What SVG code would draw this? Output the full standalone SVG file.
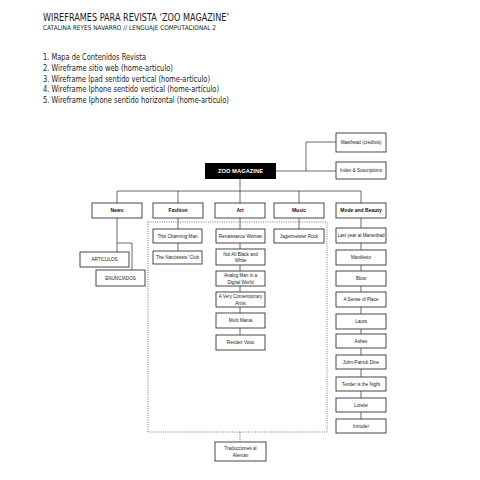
<svg xmlns="http://www.w3.org/2000/svg" width="480" height="480" viewBox="0 0 480 480">
<style>
.b{fill:#fff;stroke:#333;stroke-width:0.9}
.t{font-family:"Liberation Sans",Arial,sans-serif;font-size:4.6px;fill:#222;text-anchor:middle}
.c{font-family:"Liberation Sans",Arial,sans-serif;font-size:5px;font-weight:bold;fill:#111;text-anchor:middle}
.h{font-family:"DejaVu Sans",sans-serif;fill:#1a1a1a}
#conn line,#conn polyline{stroke:#444;stroke-width:0.8;fill:none}
</style>
<rect width="480" height="480" fill="#fff"/>
<text class="h" x="43" y="21" font-size="10" textLength="186" lengthAdjust="spacingAndGlyphs">WIREFRAMES PARA REVISTA ‘ZOO MAGAZINE’</text>
<text class="h" x="43" y="30" font-size="6.5" textLength="173" lengthAdjust="spacingAndGlyphs">CATALINA REYES NAVARRO // LENGUAJE COMPUTACIONAL 2</text>
<g class="h" font-size="8.5">
<text x="43" y="60" textLength="103" lengthAdjust="spacingAndGlyphs">1. Mapa de Contenidos Revista</text>
<text x="43" y="71" textLength="130" lengthAdjust="spacingAndGlyphs">2. Wireframe sitio web (home-artículo)</text>
<text x="43" y="81.5" textLength="167" lengthAdjust="spacingAndGlyphs">3. Wireframe Ipad sentido vertical (home-artículo)</text>
<text x="43" y="92" textLength="176" lengthAdjust="spacingAndGlyphs">4. Wireframe Iphone sentido vertical (home-artículo)</text>
<text x="43" y="102.5" textLength="186" lengthAdjust="spacingAndGlyphs">5. Wireframe Iphone sentido horizontal (home-artículo)</text>
</g>
<g id="conn">
<line x1="240" y1="179" x2="240" y2="191"/>
<line x1="117" y1="191" x2="361" y2="191"/>
<line x1="117" y1="191" x2="117" y2="203"/>
<line x1="178" y1="191" x2="178" y2="203"/>
<line x1="240" y1="191" x2="240" y2="203"/>
<line x1="299" y1="191" x2="299" y2="203"/>
<line x1="361" y1="191" x2="361" y2="203"/>
<line x1="276" y1="171" x2="336" y2="171"/>
<polyline points="306,171 306,142 336,142"/>
<line x1="117" y1="218" x2="117" y2="252"/>
<polyline points="117,243 132,243 132,270"/>
<line x1="178" y1="218" x2="178" y2="251"/>
<line x1="240" y1="218" x2="240" y2="335"/>
<line x1="299" y1="218" x2="299" y2="229"/>
<line x1="361" y1="218" x2="361" y2="419"/>
<rect x="148" y="222" width="179" height="210" fill="none" stroke="#555" stroke-width="0.8" stroke-dasharray="1,1.3"/>
<line x1="240" y1="432" x2="240" y2="442" stroke-dasharray="1,1.3"/>
</g>
<g id="zoo"><rect x="205" y="163" width="71" height="16" fill="#000"/><text class="c" x="240.5" y="173.2" style="fill:#fff;font-size:5.8px">ZOO MAGAZINE</text></g>
<g id="masthead"><rect class="b" x="336" y="133" width="50" height="19"/><text class="t" x="361" y="144">Masthead (créditos)</text></g>
<g id="index"><rect class="b" x="336" y="162" width="50" height="17"/><text class="t" x="361" y="172">Index &amp; Suscriptions</text></g>
<g id="news"><rect class="b" x="92" y="203" width="50" height="15"/><text class="c" x="117" y="212">News</text></g>
<g id="fashion"><rect class="b" x="153" y="203" width="50" height="15"/><text class="c" x="178" y="212">Fashion</text></g>
<g id="art"><rect class="b" x="215" y="203" width="50" height="15"/><text class="c" x="240" y="212">Art</text></g>
<g id="music"><rect class="b" x="274" y="203" width="50" height="15"/><text class="c" x="299" y="212">Music</text></g>
<g id="mode"><rect class="b" x="336" y="203" width="50" height="15"/><text class="c" x="361" y="212">Mode and Beauty</text></g>
<g id="articulos"><rect class="b" x="80" y="252" width="49" height="15"/><text class="t" x="104.5" y="261">ARTICULOS</text></g>
<g id="enunciados"><rect class="b" x="96" y="270" width="49" height="16"/><text class="t" x="120.5" y="279.5">ENUNCIADOS</text></g>
<g id="f1"><rect class="b" x="153" y="229" width="49" height="14"/><text class="t" x="177.5" y="237.5">This Charming Man</text></g>
<g id="f2"><rect class="b" x="153" y="251" width="49" height="13"/><text class="t" x="177.5" y="259">The Narcissists' Club</text></g>
<g id="a1"><rect class="b" x="216" y="229" width="49" height="14"/><text class="t" x="240.5" y="237.5">Renaissance Woman</text></g>
<g id="a2"><rect class="b" x="216" y="249" width="49" height="16"/><text class="t" x="240.5" y="255.5">Not All Black and</text><text class="t" x="240.5" y="262">White</text></g>
<g id="a3"><rect class="b" x="216" y="271" width="49" height="15"/><text class="t" x="240.5" y="277">Analog Man in a</text><text class="t" x="240.5" y="283.5">Digital World</text></g>
<g id="a4"><rect class="b" x="216" y="292" width="49" height="15"/><text class="t" x="240.5" y="298">A Very Contemporary</text><text class="t" x="240.5" y="304.5">Artist</text></g>
<g id="a5"><rect class="b" x="216" y="313" width="49" height="15"/><text class="t" x="240.5" y="322">Multi Mania</text></g>
<g id="a6"><rect class="b" x="216" y="335" width="49" height="15"/><text class="t" x="240.5" y="344">Rendez Vous</text></g>
<g id="m1"><rect class="b" x="274" y="229" width="50" height="14"/><text class="t" x="299" y="237.5">Jagermeister Rock</text></g>
<g id="b1"><rect class="b" x="336" y="228" width="50" height="15"/><text class="t" x="361" y="237">Last year at Marienbad</text></g>
<g id="b2"><rect class="b" x="336" y="250" width="50" height="15"/><text class="t" x="361" y="259">Manifesto</text></g>
<g id="b3"><rect class="b" x="336" y="271" width="50" height="15"/><text class="t" x="361" y="280">Blow</text></g>
<g id="b4"><rect class="b" x="336" y="292" width="50" height="15"/><text class="t" x="361" y="301">A Sense of Place</text></g>
<g id="b5"><rect class="b" x="336" y="314" width="50" height="15"/><text class="t" x="361" y="323">Laura</text></g>
<g id="b6"><rect class="b" x="336" y="334" width="50" height="14"/><text class="t" x="361" y="342.5">Ashes</text></g>
<g id="b7"><rect class="b" x="336" y="355" width="50" height="14"/><text class="t" x="361" y="363.5">John-Patrick Dine</text></g>
<g id="b8"><rect class="b" x="336" y="377" width="50" height="14"/><text class="t" x="361" y="385.5">Tender is the Night</text></g>
<g id="b9"><rect class="b" x="336" y="398" width="50" height="14"/><text class="t" x="361" y="406.5">Lorelei</text></g>
<g id="b10"><rect class="b" x="336" y="419" width="50" height="14"/><text class="t" x="361" y="427.5">Intruder</text></g>
<g id="trad"><rect class="b" x="215" y="442" width="51" height="19"/><text class="t" x="240.5" y="450">Traducciones al</text><text class="t" x="240.5" y="457">Alemán</text></g>
</svg>
